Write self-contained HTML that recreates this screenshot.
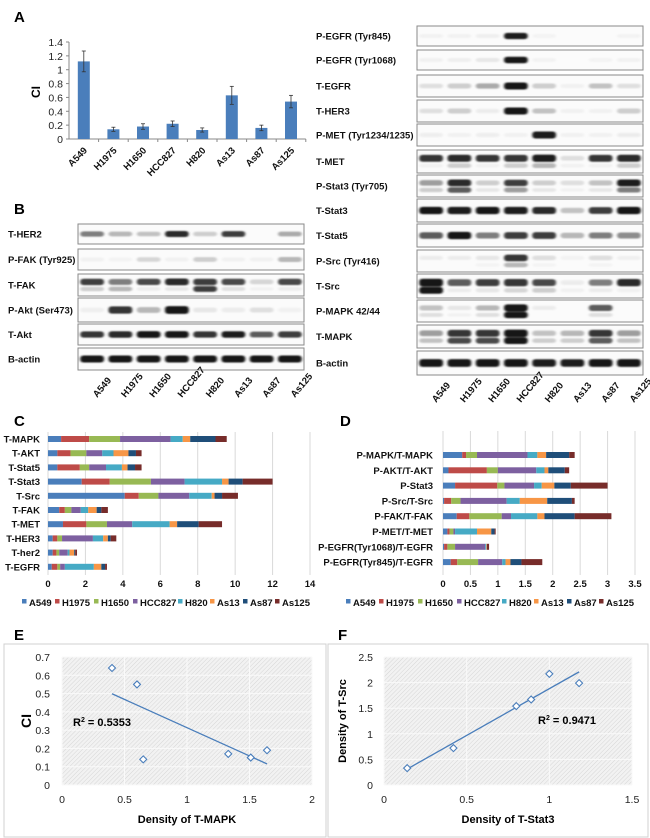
<!DOCTYPE html>
<html><head><meta charset="utf-8"><style>
html,body{margin:0;padding:0;background:#fff}
svg{display:block;font-family:"Liberation Sans",sans-serif}
.lb{font-weight:bold;font-size:9.5px;fill:#111}
.tk{font-size:10.5px;fill:#222}
.pl{font-weight:bold;font-size:15px;fill:#000}
</style></head><body>
<svg id="fig" width="650" height="838" viewBox="0 0 650 838">
<defs>
<filter id="blur" x="-20%" y="-60%" width="140%" height="220%"><feGaussianBlur stdDeviation="1.3 0.9"/></filter>
<pattern id="hatch" width="3" height="3" patternUnits="userSpaceOnUse" patternTransform="rotate(45)"><rect width="3" height="3" fill="#f2f2f2"/><line x1="0" y1="0" x2="0" y2="3" stroke="#d6d6d6" stroke-width="1"/></pattern>
</defs>
<g id="gA"></g>
<g id="gB"></g>
<g id="gC"></g>
<g id="gD"></g>
<g id="gE"></g>
<g id="gF"></g>
</svg>
<script>
// ---------- data ----------
const cellLines = ["A549","H1975","H1650","HCC827","H820","As13","As87","As125"];
const seriesColors = ["#4a7ebb","#be4b48","#98b954","#7d60a0","#46aac5","#f79646","#1f4e79","#772c2a"];
const ciValues = [1.12,0.14,0.18,0.22,0.13,0.63,0.16,0.54];
const ciErrors = [0.15,0.03,0.04,0.04,0.03,0.13,0.04,0.09];
const ciTicks = [0,0.2,0.4,0.6,0.8,1,1.2,1.4];

const cCategories = ["T-MAPK","T-AKT","T-Stat5","T-Stat3","T-Src","T-FAK","T-MET","T-HER3","T-her2","T-EGFR"];
const cValues = [
 [0.7,1.5,1.65,2.7,0.65,0.4,1.35,0.6],
 [0.5,0.7,0.85,0.85,0.6,0.8,0.4,0.3],
 [0.5,1.2,0.5,0.9,0.85,0.3,0.4,0.35],
 [1.8,1.5,2.2,1.8,2.0,0.35,0.75,1.6],
 [4.1,0.75,1.05,1.65,1.2,0.15,0.4,0.85],
 [0.6,0.3,0.35,0.5,0.4,0.45,0.25,0.35],
 [0.8,1.25,1.1,1.35,2.0,0.4,1.15,1.25],
 [0.25,0.25,0.25,1.65,0.55,0.25,0.15,0.3],
 [0.25,0.2,0.15,0.45,0.1,0.25,0.05,0.1],
 [0.2,0.3,0.15,0.25,1.55,0.4,0.2,0.1]];
const cTicks = [0,2,4,6,8,10,12,14];

const dCategories = ["P-MAPK/T-MAPK","P-AKT/T-AKT","P-Stat3","P-Src/T-Src","P-FAK/T-FAK","P-MET/T-MET","P-EGFR(Tyr1068)/T-EGFR","P-EGFR(Tyr845)/T-EGFR"];
const dValues = [
 [0.35,0.07,0.2,0.92,0.18,0.16,0.42,0.1],
 [0.1,0.7,0.2,0.7,0.15,0.07,0.3,0.08],
 [0.22,0.77,0.13,0.54,0.14,0.23,0.3,0.67],
 [0.02,0.13,0.17,0.84,0.24,0.5,0.45,0.05],
 [0.25,0.23,0.59,0.17,0.48,0.13,0.55,0.67],
 [0.08,0.04,0.07,0.03,0.4,0.26,0.06,0.02],
 [0.02,0.06,0.14,0.55,0.02,0.01,0.0,0.04],
 [0.14,0.12,0.38,0.44,0.06,0.09,0.2,0.38]];
const dTicks = [0,0.5,1,1.5,2,2.5,3,3.5];

const eX = [0.40,0.60,0.65,1.33,1.51,1.64];
const eY = [0.64,0.55,0.14,0.17,0.15,0.19];
const eXTicks = [0,0.5,1,1.5,2];
const eYTicks = [0,0.1,0.2,0.3,0.4,0.5,0.6,0.7];
const fX = [0.14,0.42,0.80,0.89,1.00,1.18];
const fY = [0.33,0.72,1.54,1.67,2.17,1.99];
const fXTicks = [0,0.5,1,1.5];
const fYTicks = [0,0.5,1,1.5,2,2.5];

// blot rows: label, top, bottom, intensities per lane, second-band intensities
const blotLeft = [
 ["T-HER2",224,244,[0.6,0.4,0.35,0.9,0.3,0.8,0.02,0.45],null],
 ["P-FAK (Tyr925)",249,270,[0.05,0.03,0.25,0.05,0.3,0.05,0.05,0.4],null],
 ["T-FAK",274,296,[0.8,0.6,0.75,0.9,0.8,0.75,0.25,0.75],[0.3,0.4,0.1,0.15,0.8,0.2,0.05,0.1]],
 ["P-Akt (Ser473)",298,322,[0.08,0.85,0.4,1.0,0.15,0.1,0.2,0.05],null],
 ["T-Akt",324,345,[0.85,0.9,1.0,1.0,0.85,0.95,0.7,0.8],null],
 ["B-actin",348,370,[1,1,1,1,1,1,1,1],null]];
const blotRight = [
 ["P-EGFR (Tyr845)",26,46,[0.05,0.05,0.08,0.95,0.03,0.02,0.02,0.04],null],
 ["P-EGFR (Tyr1068)",50,70,[0.06,0.08,0.15,1.0,0.04,0.02,0.03,0.05],null],
 ["T-EGFR",75,97,[0.2,0.3,0.45,1.0,0.3,0.05,0.35,0.2],null],
 ["T-HER3",100,122,[0.2,0.3,0.1,1.0,0.35,0.05,0.05,0.3],null],
 ["P-MET (Tyr1234/1235)",124,146,[0.08,0.05,0.08,0.05,0.95,0.05,0.05,0.1],null],
 ["T-MET",150,173,[0.85,0.9,0.85,0.85,0.95,0.2,0.85,0.9],[0.05,0.3,0.05,0.3,0.4,0.05,0.05,0.3]],
 ["P-Stat3 (Tyr705)",175,197,[0.5,0.9,0.3,0.8,0.3,0.2,0.35,0.95],[0.3,0.7,0.15,0.5,0.15,0.05,0.15,0.6]],
 ["T-Stat3",199,222,[1,0.95,1,0.95,0.9,0.35,0.8,1],null],
 ["T-Stat5",224,247,[0.7,1,0.6,0.8,0.8,0.4,0.6,0.55],null],
 ["P-Src (Tyr416)",250,272,[0.1,0.1,0.15,0.85,0.2,0.03,0.2,0.06],[0.02,0.02,0.03,0.4,0.03,0.01,0.03,0.02]],
 ["T-Src",274,298,[1,0.7,0.8,0.85,0.75,0.1,0.6,0.9],[1,0.1,0.15,0.25,0.3,0.05,0.1,0.05]],
 ["P-MAPK 42/44",300,322,[0.35,0.15,0.4,1.0,0.1,0.01,0.7,0.02],[0.2,0.05,0.2,1.0,0.02,0.01,0.2,0.01]],
 ["T-MAPK",325,348,[0.5,0.85,0.85,1.0,0.35,0.4,0.85,0.5],[0.35,0.75,0.75,1.0,0.3,0.3,0.7,0.35]],
 ["B-actin",351,375,[1,1,1,1,0.95,0.95,1,1],null]];

// ---------- helpers ----------
const NS="http://www.w3.org/2000/svg";
function mk(parent,tag,attrs,text){const e=document.createElementNS(NS,tag);for(const k in attrs)e.setAttribute(k,attrs[k]);if(text!==undefined)e.textContent=text;parent.appendChild(e);return e;}

// ---------- Panel A ----------
(function(){
 const g=document.getElementById('gA');
 const lab=mk(g,'text',{x:14,y:22,class:'pl'},'A');
 
 
 const x0=69,bw=29.6,y0=139,yTop=42;
 const yS=v=>y0-(v/1.4)*(y0-yTop);
 mk(g,'line',{x1:x0,y1:yTop,x2:x0,y2:y0,stroke:'#888','stroke-width':1});
 mk(g,'line',{x1:x0,y1:y0,x2:x0+8*bw,y2:y0,stroke:'#888','stroke-width':1});
 ciTicks.forEach(t=>{
  const tx=mk(g,'text',{x:x0-6,y:yS(t)+4,'text-anchor':'end',class:'tk'},String(t));
  
  
  mk(g,'line',{x1:x0-3,y1:yS(t),x2:x0,y2:yS(t),stroke:'#888'});
 });
 const yt=mk(g,'text',{x:40,y:92,transform:'rotate(-90 40 92)','text-anchor':'middle','font-weight':'bold','font-size':'12px'},'CI');
 
 
 ciValues.forEach((v,i)=>{
  const cx=x0+bw*(i+0.5);
  const r=mk(g,'rect',{x:cx-6,y:yS(v),width:12,height:y0-yS(v),fill:'#4a7ebb'});
  
  
  const e=ciErrors[i];
  mk(g,'line',{x1:cx,y1:yS(v+e),x2:cx,y2:yS(v-e),stroke:'#333','stroke-width':0.8});
  mk(g,'line',{x1:cx-2,y1:yS(v+e),x2:cx+2,y2:yS(v+e),stroke:'#333','stroke-width':0.8});
  mk(g,'line',{x1:cx-2,y1:yS(v-e),x2:cx+2,y2:yS(v-e),stroke:'#333','stroke-width':0.8});
  mk(g,'line',{x1:x0+bw*(i+1),y1:y0,x2:x0+bw*(i+1),y2:y0+3,stroke:'#888'});
  const t=mk(g,'text',{x:cx+4,y:y0+12,transform:`rotate(-45 ${cx+4} ${y0+12})`,'text-anchor':'end',class:'lb'},cellLines[i]);
  
  
 });
})();

// ---------- Panel B ----------
(function(){
 const g=document.getElementById('gB');
 const lab=mk(g,'text',{x:14,y:214,class:'pl'},'B');
 
 
 function drawBlots(rows,bx,bw,lx,side){
  const lw=bw/8;
  rows.forEach(r=>{
   const [name,top,bot,ints,ints2]=r;
   const h=bot-top;
   const box=mk(g,'rect',{x:bx,y:top,width:bw,height:h,fill:'#fbfbfb',stroke:'#8a8a8a','stroke-width':1});
   
   
   const t=mk(g,'text',{x:lx,y:top+h/2+3.5,class:'lb'},name);
   
   
   const bg=mk(g,'g',{filter:'url(#blur)'});
   const two=!!ints2;
   ints.forEach((v,i)=>{
    const cx=bx+lw*(i+0.5);
    const c=Math.round(20+(1-v)*210);
    const bh=Math.max(2.5,h*0.18+v*h*0.14);
    const cy=two?top+h*0.36:top+h/2;
    if(v>0.02)mk(bg,'rect',{x:cx-lw*0.42,y:cy-bh/2,width:lw*0.84,height:bh,rx:3,fill:`rgb(${c},${c},${c})`,opacity:Math.min(1,0.25+v)});
    if(two&&ints2[i]>0.02){const v2=ints2[i];const c2=Math.round(20+(1-v2)*210);const bh2=Math.max(2,h*0.15+v2*h*0.14);
     mk(bg,'rect',{x:cx-lw*0.42,y:top+h*0.68-bh2/2,width:lw*0.84,height:bh2,rx:3,fill:`rgb(${c2},${c2},${c2})`,opacity:Math.min(1,0.25+v2)});}
   });
  });
  const lastBot=rows[rows.length-1][2];
  cellLines.forEach((n,i)=>{
   const cx=bx+lw*(i+0.5)+5, cy=lastBot+28;
   const t=mk(g,'text',{x:cx,y:cy,transform:`rotate(-50 ${cx} ${cy})`,'text-anchor':'start',class:'lb'},n);
   
   
  });
 }
 drawBlots(blotLeft,78,226,8,'left');
 drawBlots(blotRight,417,226,316,'right');
})();

// ---------- stacked bar panels ----------
function stacked(gid,letter,lx,ly,cats,vals,ticks,x0,x1,maxV,yFirst,yStep,labelX,tickY,legX,gTop,gBot){
 const g=document.getElementById(gid);
 const lab=mk(g,'text',{x:lx,y:ly,class:'pl'},letter);
 
 
 const xs=v=>x0+(v/maxV)*(x1-x0);
 ticks.forEach(t=>{
  mk(g,'line',{x1:xs(t),y1:gTop,x2:xs(t),y2:gBot,stroke:'#d9d9d9','stroke-width':1});
  const tx=mk(g,'text',{x:xs(t),y:tickY,'text-anchor':'middle',class:'lb','font-size':'9.5px'},String(t));
  
  
 });
 cats.forEach((c,ci)=>{
  const y=yFirst+ci*yStep;
  const t=mk(g,'text',{x:labelX,y:y+3.5,'text-anchor':'end',class:'lb'},c);
  
  
  let acc=0;
  vals[ci].forEach((v,si)=>{
   const r=mk(g,'rect',{x:xs(acc),y:y-3,width:Math.max(0,xs(acc+v)-xs(acc)),height:6,fill:seriesColors[si]});
   
   
   acc+=v;
  });
 });
 const legOff=[0,33,72,111,156,188,221,253];
 cellLines.forEach((n,i)=>{
  const lx2=legX+legOff[i];
  const sq=mk(g,'rect',{x:lx2,y:599,width:4.5,height:4.5,fill:seriesColors[i]});
  
  
  const t=mk(g,'text',{x:lx2+7,y:606,class:'lb','font-size':'8.5px'},n);
  
  
 });
}
stacked('gC','C',14,426,cCategories,cValues,cTicks,48,310,14,439,14.2,40,587,22,432,575);
stacked('gD','D',340,426,dCategories,dValues,dTicks,443,635,3.5,455,15.3,433,587,346,431,575);

// ---------- scatter panels ----------
function scatter(gid,letter,lx,box,xs0,xs1,maxX,y0,yTop,maxY,X,Y,xt,yt,xTitle,yTitle,r2,r2x,r2y,ytx,ytickX){
 const g=document.getElementById(gid);
 const lab=mk(g,'text',{x:lx,y:640,class:'pl'},letter);
 
 
 mk(g,'rect',{x:box[0],y:box[1],width:box[2],height:box[3],fill:'#fff',stroke:'#d0d0d0','stroke-width':1});
 const sx=v=>xs0+(v/maxX)*(xs1-xs0), sy=v=>y0-(v/maxY)*(y0-yTop);
 mk(g,'rect',{x:xs0,y:yTop,width:xs1-xs0,height:y0-yTop,fill:'url(#hatch)'});
 xt.forEach(t=>{mk(g,'line',{x1:sx(t),y1:yTop,x2:sx(t),y2:y0,stroke:'#fafafa','stroke-width':1});
  const tx=mk(g,'text',{x:sx(t),y:y0+18,'text-anchor':'middle',class:'tk','font-size':'11px'},String(t));
  
  });
 yt.forEach(t=>{mk(g,'line',{x1:xs0,y1:sy(t),x2:xs1,y2:sy(t),stroke:'#fafafa','stroke-width':1});
  const tx=mk(g,'text',{x:ytickX,y:sy(t)+4,'text-anchor':'end',class:'tk','font-size':'11px'},String(t));
  
  });
 // least squares trend
 const n=X.length,mx=X.reduce((a,b)=>a+b)/n,my=Y.reduce((a,b)=>a+b)/n;
 let sxy=0,sxx=0;X.forEach((x,i)=>{sxy+=(x-mx)*(Y[i]-my);sxx+=(x-mx)**2;});
 const b=sxy/sxx,a=my-b*mx,xa=Math.min(...X),xb=Math.max(...X);
 const tl=mk(g,'line',{x1:sx(xa),y1:sy(a+b*xa),x2:sx(xb),y2:sy(a+b*xb),stroke:'#4a7ebb','stroke-width':1.3});
 
 
 X.forEach((x,i)=>{const cx=sx(x),cy=sy(Y[i]);
  const p=mk(g,'polygon',{points:`${cx},${cy-3.5} ${cx+3.5},${cy} ${cx},${cy+3.5} ${cx-3.5},${cy}`,fill:'#fff',stroke:'#4a7ebb','stroke-width':1.1});
  
  });
 const rt=mk(g,'text',{x:r2x,y:r2y,'font-weight':'bold','font-size':'11px'});
 
 
 mk(rt,'tspan',{},'R');mk(rt,'tspan',{'font-size':'7px',dy:'-4'},'2');mk(rt,'tspan',{dy:'4'},' = '+r2);
 const xtT=mk(g,'text',{x:(xs0+xs1)/2,y:823,'text-anchor':'middle','font-weight':'bold','font-size':'11px'},xTitle);
 
 
 const yc=(y0+yTop)/2;
 const ytT=mk(g,'text',{x:ytx,y:yc,transform:`rotate(-90 ${ytx} ${yc})`,'text-anchor':'middle','font-weight':'bold','font-size':yTitle==='CI'?'14px':'11px'},yTitle);
 
 
}
scatter('gE','E',14,[4,644,322,193],62,312,2,785,657,0.7,eX,eY,eXTicks,eYTicks,'Density of T-MAPK','CI','0.5353',73,726,31,50);
scatter('gF','F',338,[328,644,320,193],384,632,1.5,785,657,2.5,fX,fY,fXTicks,fYTicks,'Density of T-Stat3','Density of T-Src','0.9471',538,724,346,373);
</script>
</body></html>
